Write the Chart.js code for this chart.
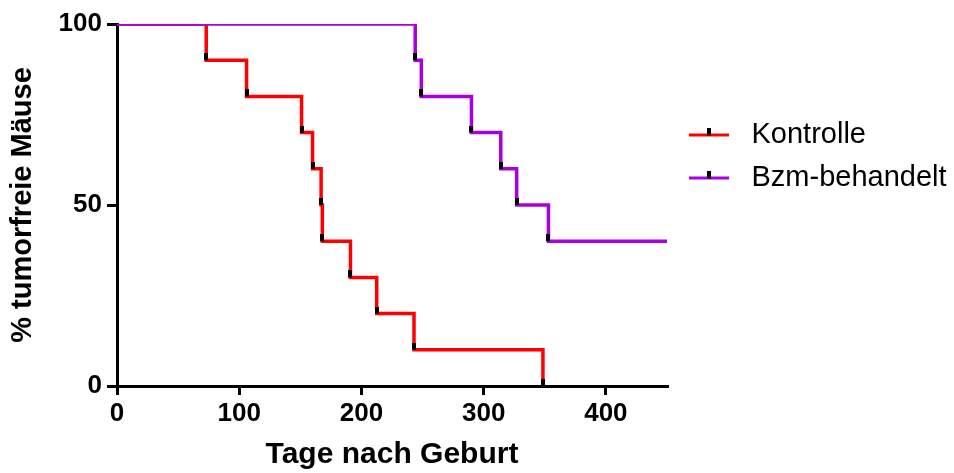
<!DOCTYPE html>
<html>
<head>
<meta charset="utf-8">
<script src="https://cdn.jsdelivr.net/npm/chart.js@4/dist/chart.umd.min.js"></script>
<style>
  html, body { margin: 0; padding: 0; background: #fff; }
  #wrap { width: 954px; height: 473px; }
</style>
</head>
<body>
<div id="wrap"><canvas id="chart_area" width="954" height="473"></canvas></div>
<script>
// Kaplan-Meier Daten: Tage und % tumorfreie Mäuse
const kontrolleTage = [0, 73, 106, 151, 160, 167, 168, 191, 212.5, 243, 348.5];
const kontrolleProzent = [100, 90, 80, 70, 60, 50, 40, 30, 20, 10, 0];
const bzmTage = [0, 244, 249, 290, 314, 327, 353, 450];
const bzmProzent = [100, 90, 80, 70, 60, 50, 40, 40];

const seriesNames = ["Kontrolle", "Bzm-behandelt"];
const xTicks = [0, 100, 200, 300, 400];
const yTicks = [0, 50, 100];

const rot = "#ff0000";
const lila = "#aa00e0";

Chart.defaults.font.family = "'Liberation Sans', Arial, sans-serif";
Chart.defaults.color = "#000";

// kleiner schwarzer Strich für jedes Ereignis (sitzt über der neuen Stufe)
function makeTick() {
  const c = document.createElement("canvas");
  c.width = 4; c.height = 14;
  const g = c.getContext("2d");
  g.fillStyle = "#000";
  g.fillRect(0, 0, 4, 7);
  return c;
}

// Legendensymbol: farbige Linie mit Strich in der Mitte
function makeLegendIcon(color) {
  const c = document.createElement("canvas");
  c.width = 40; c.height = 14;
  const g = c.getContext("2d");
  g.fillStyle = color;
  g.fillRect(0, 6, 40, 3);
  g.fillStyle = "#000";
  g.fillRect(18, 0, 4, 8);
  return c;
}

const tickImg = makeTick();

function toPoints(xs, ys) {
  return xs.map((x, i) => ({ x: x, y: ys[i] }));
}

function markerRadius(ctx) {
  const d = ctx.dataset.data;
  const i = ctx.dataIndex;
  if (i > 0 && d[i].y < d[i - 1].y) return 3;
  return 0;
}

const data = {
  datasets: [{
    label: seriesNames[0],
    data: toPoints(kontrolleTage, kontrolleProzent),
    borderColor: rot,
    borderWidth: 3.5,
    stepped: "before",
    pointStyle: tickImg,
    pointRadius: markerRadius,
    order: 2,
    legendIcon: makeLegendIcon(rot),
  }, {
    label: seriesNames[1],
    data: toPoints(bzmTage, bzmProzent),
    borderColor: lila,
    borderWidth: 3.5,
    stepped: "before",
    pointStyle: tickImg,
    pointRadius: markerRadius,
    order: 1,
    legendIcon: makeLegendIcon(lila),
  }]
};

const axisBorder = { display: true, color: "#000", width: 3, dash: [3, 1] };

const options = {
  responsive: false,
  animation: false,
  events: [],
  layout: { padding: { top: 24, right: 0, bottom: 0, left: 0 } },
  plugins: {
    tooltip: { enabled: false },
    legend: {
      position: "right",
      align: "start",
      maxWidth: 287,
      title: { display: true, text: " ", font: { size: 10 }, padding: { top: 70, bottom: 0 } },
      labels: {
        usePointStyle: true,
        pointStyleWidth: 56,
        padding: 14,
        color: "#000",
        font: { size: 29 },
        generateLabels: (chart) => chart.data.datasets.map((ds, i) => ({
          text: ds.label,
          pointStyle: ds.legendIcon,
          fillStyle: ds.borderColor,
          strokeStyle: ds.borderColor,
          lineWidth: 0,
          fontColor: "#000",
          hidden: false,
          datasetIndex: i,
        })),
      },
    },
  },
  scales: {
    x: {
      type: "linear",
      min: 0,
      max: 450,
      afterFit: (s) => { s.height = 87; },
      afterBuildTicks: (s) => { s.ticks = xTicks.map(v => ({ value: v })); },
      border: axisBorder,
      grid: {
        drawOnChartArea: false,
        drawTicks: true,
        tickLength: 9,
        tickWidth: 3,
        tickColor: "#000",
        lineWidth: 3,
      },
      ticks: { padding: 3, font: { size: 26, weight: "bold" }, color: "#000", maxRotation: 0 },
      title: {
        display: true,
        text: "Tage nach Geburt",
        font: { size: 30, weight: "bold" },
        color: "#000",
        padding: { top: 0, bottom: 0 },
      },
    },
    y: {
      min: 0,
      max: 100,
      afterFit: (s) => { s.width = 117; },
      afterBuildTicks: (s) => { s.ticks = yTicks.map(v => ({ value: v })); },
      border: axisBorder,
      grid: {
        drawOnChartArea: false,
        drawTicks: true,
        tickLength: 10,
        tickWidth: 3,
        tickColor: "#000",
        lineWidth: 3,
      },
      ticks: { padding: 5, font: { size: 26, weight: "bold" }, color: "#000" },
      title: {
        display: true,
        text: "% tumorfreie Mäuse",
        font: { size: 29, weight: "bold" },
        color: "#000",
        padding: { top: 6, bottom: 0 },
      },
    },
  },
};

let ctx = document.getElementById("chart_area").getContext("2d");
let chart = new Chart(ctx, { type: "line", data: data, options: options });
</script>
</body>
</html>
